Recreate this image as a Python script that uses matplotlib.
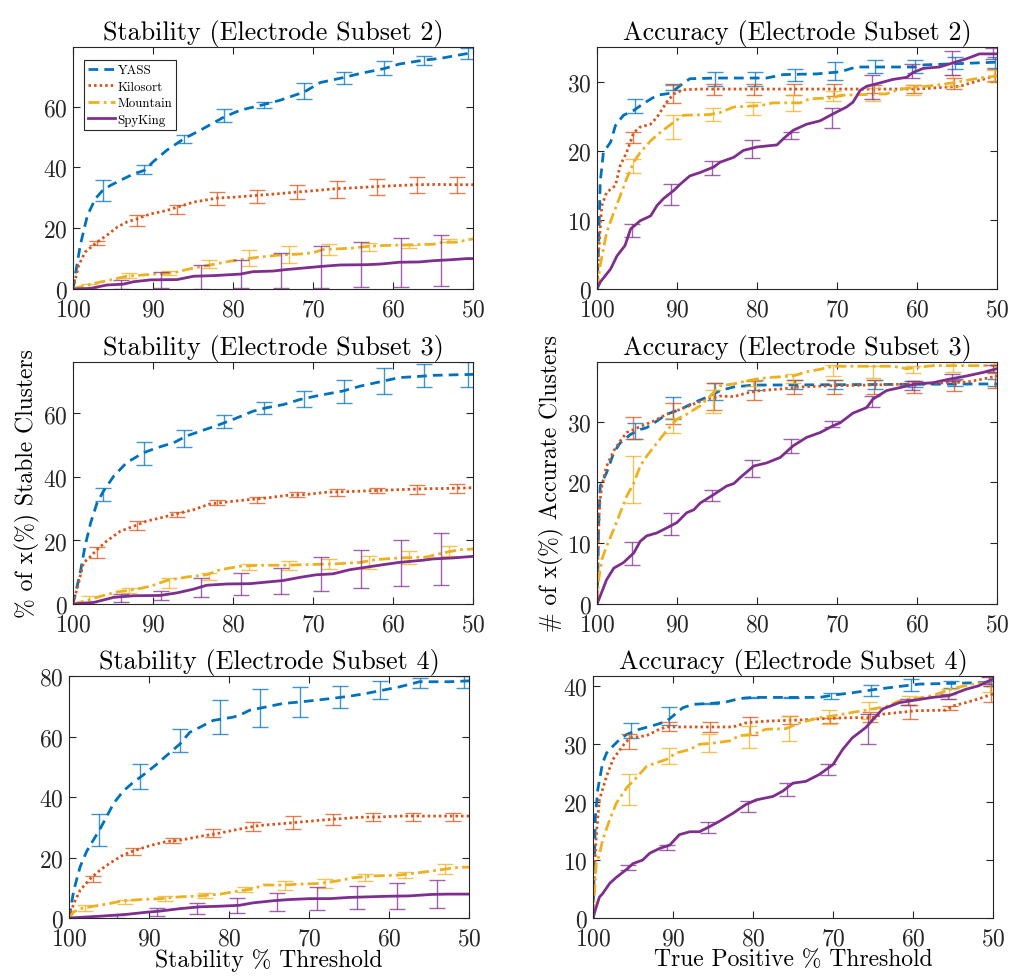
import numpy as np
import matplotlib
matplotlib.use("Agg")
import matplotlib.pyplot as plt

# Computer Modern look (fonts shipped with matplotlib)
plt.rcParams['font.family'] = ['cmr10', 'DejaVu Serif']
plt.rcParams['mathtext.fontset'] = 'cm'
plt.rcParams['axes.formatter.use_mathtext'] = True
plt.rcParams['axes.unicode_minus'] = False

names = ['YASS', 'Kilosort', 'Mountain', 'SpyKing']
colors = ['#0072BD', '#D95319', '#EDB120', '#7E2F8E']
dashes = [(3.5, 2.2), (0.9, 1.1), (4.0, 1.5, 1.0, 1.5), None]

# x positions of the error bars (stability panels / accuracy panels)
stab_ex_yass = [96.3, 91.1, 86.1, 81.1, 76.1, 71.1, 66.1, 61.1, 56.1, 50.6]
stab_ex_kilo = [97, 92, 87, 82, 77, 72, 67, 62, 57, 52]
stab_ex_mount = [98, 93, 88, 83, 78, 73, 68, 63, 58, 53]
stab_ex_spy = [94, 89, 84, 79, 74, 69, 64, 59, 54]
acc_ex_yass = [95.3, 90.5, 85.3, 80.3, 75.3, 70.3, 65.3, 60.3, 55.3, 50.3]
acc_ex_kilo = [95.5, 90.5, 85.4, 80.4, 75.4, 70.4, 65.4, 60.4, 55.4, 50.3]
acc_ex_mount = [95.5, 90.5, 85.5, 80.5, 75.5, 70.5, 65.5, 60.5, 55.5, 50.4]
acc_ex_spy = [95.6, 90.7, 85.6, 80.6, 75.7, 70.6, 65.6, 60.6, 55.6, 50.5]

# ---- Stability (Electrode Subset 2)
s2_yass_x = [100, 99.1, 98.2, 97.2, 96.3, 95.3, 94.1, 92.4, 91.1, 90.0, 88.3, 86.1, 84.1, 81.1, 79.1, 76.1, 74.1, 71.1, 69.1, 66.1, 64.1, 61.1, 59.2, 56.1, 54.2, 50.6, 50]
s2_yass_y = [0, 14.3, 24.2, 29.7, 32.4, 34.1, 35.7, 37.9, 39.0, 41.8, 45.6, 49.5, 52.2, 56.6, 58.8, 60.7, 62.1, 64.8, 67.9, 69.6, 70.9, 72.5, 74.0, 75.3, 75.8, 77.5, 77.6]
s2_yass_m = [32.3, 39.2, 49.3, 57.0, 60.6, 65.0, 69.4, 72.7, 75.2, 77.4]
s2_yass_e = [3.4, 1.5, 1.4, 2.1, 0.9, 2.6, 2.0, 2.2, 1.5, 1.9]
s2_kilo_x = [100, 99.3, 98.5, 97.0, 95.8, 94.5, 93.3, 92.0, 90.3, 88.3, 87.0, 84.9, 82.0, 79.9, 77.0, 74.5, 72.0, 69.6, 67.1, 64.6, 62.1, 59.6, 57.1, 54.6, 52.1, 50]
s2_kilo_y = [0, 7.7, 12.1, 15.4, 17.6, 20.3, 22.0, 23.1, 24.7, 25.8, 26.9, 28.6, 29.9, 30.2, 30.8, 31.3, 31.9, 32.4, 33.0, 33.3, 33.7, 34.0, 34.3, 34.4, 34.3, 34.3]
s2_kilo_m = [15.2, 22.6, 26.1, 29.7, 30.4, 31.9, 32.7, 33.5, 34.2, 34.2]
s2_kilo_e = [0.7, 1.8, 1.4, 2.2, 2.2, 2.4, 2.7, 2.7, 2.7, 2.7]
s2_mount_x = [100, 98.3, 95.3, 93.3, 90.3, 87.4, 85.8, 83.3, 80.0, 77.0, 74.1, 71.6, 70.0, 68.7, 65.4, 62.9, 61.2, 57.1, 55.0, 53.8, 52.1, 50]
s2_mount_y = [0, 1.3, 3.0, 4.2, 4.8, 5.3, 6.4, 7.7, 9.3, 10.4, 11.2, 11.5, 11.9, 13.0, 13.4, 14.1, 14.3, 14.6, 14.7, 15.4, 15.4, 16.5]
s2_mount_m = [1.0, 4.4, 5.3, 8.1, 10.1, 11.3, 13.0, 13.8, 14.0, 15.8]
s2_mount_e = [0.6, 0.9, 0.7, 1.3, 2.6, 2.8, 1.8, 1.2, 0.6, 0.5]
s2_spy_x = [100, 97.8, 95.8, 93.7, 92.4, 90.3, 87.0, 84.9, 82.4, 79.1, 77.5, 75.0, 73.3, 71.6, 69.1, 66.6, 63.3, 61.6, 59.2, 56.7, 55.0, 52.9, 50.8, 50]
s2_spy_y = [0, 0.2, 1.3, 1.6, 2.4, 3.0, 3.1, 4.2, 4.4, 4.9, 5.7, 5.9, 6.4, 6.8, 7.4, 7.9, 8.0, 8.2, 8.8, 8.9, 9.3, 9.6, 10.0, 10.0]
s2_spy_m = [1.5, 3.0, 3.9, 5.0, 6.1, 7.2, 7.9, 8.6, 9.4]
s2_spy_e = [1.5, 2.7, 3.9, 4.6, 5.7, 6.8, 7.4, 8.1, 8.5]

# ---- Accuracy (Electrode Subset 2)
a2_yass_x = [100, 99.8, 99.6, 99.2, 98.3, 97.7, 96.7, 95.4, 94.2, 92.5, 90.8, 89.6, 88.4, 85.0, 78.8, 76.7, 72.5, 69.6, 67.6, 60.1, 59.2, 50]
a2_yass_y = [0, 6.3, 15.5, 19.8, 21.3, 23.7, 25.2, 25.9, 26.9, 28.1, 28.4, 29.5, 30.5, 30.6, 30.6, 31.1, 31.2, 31.5, 32.2, 32.2, 32.5, 32.9]
a2_yass_m = [26.5, 29.3, 30.5, 30.5, 31.0, 31.6, 32.3, 32.3, 32.8, 32.8]
a2_yass_e = [1.0, 0.5, 1.0, 1.0, 0.9, 1.3, 0.9, 0.9, 0.9, 0.8]
a2_kilo_x = [100, 99.8, 99.4, 98.8, 97.7, 97.1, 96.3, 95.4, 94.6, 93.3, 92.5, 91.3, 90.4, 89.2, 87.1, 60.0, 54.7, 50]
a2_kilo_y = [0, 5.3, 12.1, 14.0, 15.0, 17.9, 19.8, 22.7, 23.5, 23.9, 24.9, 27.1, 28.3, 28.9, 29.0, 29.0, 29.4, 31.0]
a2_kilo_m = [22.0, 28.3, 29.0, 29.0, 28.9, 28.9, 29.0, 29.0, 29.8, 31.0]
a2_kilo_e = [0.8, 1.3, 0.8, 0.8, 0.8, 0.85, 0.6, 0.6, 0.85, 0.85]
a2_mount_x = [100, 99.6, 99.2, 98.8, 97.9, 97.1, 96.3, 95.4, 94.6, 93.3, 92.1, 90.4, 89.2, 85.9, 84.6, 82.9, 79.6, 78.0, 74.6, 73.4, 70.5, 69.6, 63.8, 62.1, 58.8, 55.5, 52.2, 50]
a2_mount_y = [0, 3.4, 5.8, 8.2, 11.1, 13.5, 16.0, 18.4, 19.8, 21.5, 22.7, 24.2, 25.2, 25.3, 25.6, 26.4, 26.6, 27.0, 27.0, 27.6, 27.7, 28.1, 28.3, 29.0, 29.4, 29.9, 30.6, 30.9]
a2_mount_m = [17.8, 23.5, 25.3, 26.2, 27.0, 28.0, 28.2, 28.9, 30.3, 30.9]
a2_mount_e = [1.0, 1.75, 1.0, 0.95, 1.15, 0.7, 0.9, 0.7, 0.8, 0.9]
a2_spy_x = [100, 99.6, 98.3, 97.5, 96.5, 95.8, 94.6, 93.3, 92.5, 91.7, 90.4, 89.6, 88.4, 87.1, 85.4, 84.6, 82.9, 81.7, 80.0, 77.5, 76.7, 75.5, 73.8, 72.1, 70.5, 68.8, 68.0, 67.1, 66.3, 64.6, 63.0, 61.3, 60.5, 59.2, 57.2, 55.5, 53.8, 52.2, 50]
a2_spy_y = [0, 1.0, 2.9, 4.8, 6.3, 8.7, 9.9, 10.6, 12.1, 13.1, 14.3, 15.2, 16.4, 16.9, 17.7, 18.4, 19.1, 20.1, 20.6, 20.9, 21.8, 23.0, 23.9, 24.4, 25.4, 26.4, 27.1, 28.8, 29.4, 29.9, 30.4, 30.7, 31.4, 32.0, 32.2, 32.8, 33.4, 34.1, 34.1]
a2_spy_m = [8.5, 13.7, 17.5, 20.3, 22.3, 24.8, 29.3, 31.6, 32.8, 34.1]
a2_spy_e = [1.0, 1.5, 1.0, 1.3, 0.5, 1.5, 1.7, 1.0, 1.7, 0.8]

# ---- Stability (Electrode Subset 3)
s3_yass_x = [100, 99.1, 98.5, 97.8, 97.0, 96.2, 94.9, 93.3, 91.2, 89.5, 87.4, 85.8, 84.1, 82.0, 80.0, 77.5, 75.8, 73.7, 71.6, 69.6, 66.2, 64.1, 61.2, 59.2, 57.1, 55.0, 50]
s3_yass_y = [0, 9.8, 18.2, 25.5, 31.8, 35.5, 40.3, 44.5, 47.6, 49.2, 50.8, 52.9, 54.4, 56.2, 58.1, 60.7, 61.8, 62.8, 64.4, 65.5, 67.1, 68.6, 70.2, 71.3, 71.6, 72.0, 72.3]
s3_yass_m = [34.5, 47.3, 52.2, 57.4, 61.8, 64.6, 67.0, 70.2, 72.0, 72.3]
s3_yass_e = [2.1, 3.6, 2.7, 2.1, 1.9, 2.5, 3.6, 4.2, 3.7, 3.9]
s3_kilo_x = [100, 99.3, 98.7, 97.8, 97.0, 95.8, 94.1, 92.4, 90.8, 89.1, 87.4, 84.9, 82.9, 80.9, 77.9, 75.8, 73.3, 70.8, 68.3, 65.4, 62.5, 59.2, 55.8, 52.9, 50]
s3_kilo_y = [0, 6.6, 12.9, 15.0, 17.1, 19.8, 22.9, 24.5, 26.1, 27.1, 28.2, 29.7, 31.5, 32.1, 32.9, 33.4, 34.2, 34.5, 35.2, 35.4, 35.7, 36.0, 36.3, 36.4, 36.6]
s3_kilo_m = [16.2, 24.6, 28.2, 31.9, 32.7, 34.4, 35.2, 35.8, 36.1, 36.4]
s3_kilo_e = [1.7, 1.4, 0.8, 0.8, 0.9, 0.8, 1.05, 0.8, 1.5, 1.4]
s3_mount_x = [100, 98.3, 96.6, 94.5, 92.4, 90.3, 88.3, 85.8, 83.3, 81.6, 79.1, 76.6, 73.7, 70.8, 67.5, 64.1, 62.1, 59.2, 55.8, 53.7, 51.7, 50]
s3_mount_y = [0, 1.1, 2.4, 3.8, 4.5, 5.6, 7.4, 8.5, 9.2, 10.8, 11.9, 12.2, 12.2, 12.4, 12.6, 13.1, 14.0, 14.5, 14.8, 16.1, 17.1, 17.3]
s3_mount_m = [1.5, 4.3, 6.6, 8.7, 11.7, 12.0, 12.6, 13.1, 14.6, 16.6]
s3_mount_e = [1.0, 0.8, 1.6, 1.05, 0.9, 1.4, 1.7, 2.1, 2.0, 1.6]
s3_spy_x = [100, 97.4, 94.9, 92.4, 89.1, 87.0, 84.9, 83.3, 80.8, 77.9, 75.8, 73.7, 71.6, 69.6, 67.5, 65.4, 63.3, 61.2, 59.2, 56.2, 55.0, 52.5, 50]
s3_spy_y = [0, 0.5, 2.1, 2.6, 2.7, 3.5, 4.7, 5.9, 6.3, 6.4, 6.9, 7.4, 8.4, 9.2, 9.5, 10.8, 11.6, 12.4, 13.1, 13.8, 14.2, 14.5, 15.0]
s3_spy_m = [1.8, 2.8, 5.1, 6.3, 7.3, 9.5, 11.0, 12.8, 14.2]
s3_spy_e = [1.3, 1.4, 3.0, 3.4, 4.1, 5.3, 6.1, 7.2, 8.1]

# ---- Accuracy (Electrode Subset 3)
a3_yass_x = [100, 99.9, 99.8, 99.6, 98.8, 97.9, 97.1, 95.8, 94.6, 93.8, 92.5, 91.3, 89.6, 87.9, 86.3, 84.6, 82.9, 80.4, 50]
a3_yass_y = [0, 5.1, 12.8, 19.4, 21.6, 24.9, 26.5, 27.9, 28.7, 29.0, 30.1, 31.2, 32.0, 33.1, 34.0, 35.1, 35.7, 36.0, 36.2]
a3_yass_m = [28.5, 32.2, 35.0, 36.0, 36.1, 36.1, 36.1, 36.2, 36.4, 36.4]
a3_yass_e = [1.3, 1.8, 1.4, 0.8, 0.8, 0.8, 0.7, 0.5, 0.55, 0.55]
a3_kilo_x = [100, 99.9, 99.7, 99.4, 98.8, 97.9, 97.1, 96.3, 95.4, 94.2, 92.9, 91.3, 89.6, 87.9, 86.3, 84.6, 82.9, 81.3, 79.6, 76.7, 74.6, 70.5, 66.3, 60.1, 53.8, 51.7, 50]
a3_kilo_y = [0, 7.3, 16.1, 19.4, 22.7, 25.2, 26.8, 28.2, 28.7, 29.4, 30.1, 31.2, 32.0, 32.9, 33.7, 34.2, 34.1, 34.7, 35.1, 35.4, 35.7, 35.9, 36.0, 36.2, 36.5, 37.0, 37.5]
a3_kilo_m = [29.0, 31.3, 34.1, 35.1, 35.7, 35.7, 35.7, 35.7, 35.9, 36.8]
a3_kilo_e = [1.8, 1.7, 2.2, 1.6, 1.2, 1.2, 1.2, 1.0, 0.9, 1.2]
a3_mount_x = [100, 99.8, 99.4, 98.8, 97.9, 97.1, 96.3, 95.4, 94.6, 93.8, 92.5, 91.3, 90.0, 88.8, 87.1, 85.4, 84.6, 82.9, 81.3, 79.6, 77.9, 75.5, 73.8, 72.1, 70.5, 63.0, 61.3, 60.1, 58.0, 50]
a3_mount_y = [0, 4.0, 7.3, 9.5, 12.3, 15.0, 17.7, 19.9, 22.7, 24.3, 26.5, 28.5, 30.4, 31.2, 32.6, 34.8, 35.9, 36.2, 36.7, 37.1, 37.3, 37.5, 38.2, 38.6, 39.1, 39.1, 38.7, 38.9, 39.2, 39.2]
a3_mount_m = [20.5, 29.4, 33.3, 36.4, 37.1, 38.4, 38.2, 38.6, 39.0, 39.0]
a3_mount_e = [3.85, 1.2, 1.95, 0.5, 0.7, 0.9, 1.0, 0.55, 0.8, 0.8]
a3_spy_x = [100, 99.6, 98.8, 97.9, 96.7, 95.4, 94.6, 93.8, 92.5, 91.3, 90.0, 88.8, 87.9, 87.1, 85.4, 83.8, 82.9, 82.1, 80.4, 78.8, 77.1, 75.5, 73.8, 72.1, 70.5, 69.6, 68.0, 66.3, 65.5, 63.8, 62.1, 60.1, 58.0, 55.9, 53.8, 51.7, 50]
a3_spy_y = [0, 1.3, 4.0, 5.9, 6.8, 8.4, 10.3, 11.2, 11.7, 12.5, 13.4, 15.0, 15.5, 16.6, 18.0, 19.4, 19.8, 20.8, 22.7, 23.2, 24.1, 26.0, 27.4, 28.2, 29.3, 29.8, 31.4, 32.3, 33.7, 35.1, 35.6, 36.2, 36.4, 37.0, 37.5, 38.1, 38.7]
a3_spy_m = [8.3, 13.1, 17.8, 22.3, 26.0, 29.6, 33.3, 36.0, 37.3, 38.7]
a3_spy_e = [1.9, 1.8, 0.9, 1.35, 1.15, 0.55, 0.95, 0.75, 0.6, 0.6]

# ---- Stability (Electrode Subset 4)
s4_yass_x = [100, 99.4, 98.6, 97.8, 96.9, 96.1, 95.3, 94.4, 93.2, 91.9, 90.7, 89.0, 87.8, 86.1, 84.9, 83.6, 82.0, 79.5, 78.7, 77.4, 75.3, 73.3, 71.2, 69.1, 67.1, 65.0, 62.9, 60.8, 58.7, 56.2, 52.5, 50]
s4_yass_y = [0, 9.2, 17.0, 22.0, 26.0, 29.5, 33.5, 38.0, 42.0, 45.0, 47.3, 50.9, 53.7, 57.6, 61.4, 63.1, 65.3, 66.4, 67.0, 68.7, 69.8, 70.9, 71.4, 72.0, 72.6, 73.3, 74.2, 75.3, 76.4, 78.1, 78.1, 78.4]
s4_yass_m = [29.1, 46.7, 58.7, 66.4, 69.4, 71.3, 73.0, 75.3, 77.6, 77.9]
s4_yass_e = [5.2, 4.2, 3.7, 5.55, 6.3, 4.9, 3.6, 3.05, 1.65, 2.0]
s4_kilo_x = [100, 99.4, 98.6, 97.3, 96.1, 94.9, 93.2, 91.9, 89.9, 87.8, 86.1, 83.6, 81.1, 78.7, 76.2, 73.3, 71.2, 68.7, 66.2, 63.7, 61.2, 58.7, 50]
s4_kilo_y = [0, 4.8, 9.2, 13.1, 15.9, 18.1, 20.9, 22.2, 23.9, 25.3, 25.7, 27.0, 28.1, 29.4, 30.6, 31.2, 31.7, 32.3, 32.8, 33.3, 33.4, 33.7, 33.7]
s4_kilo_m = [12.8, 21.9, 25.6, 28.0, 30.3, 31.6, 32.6, 33.4, 33.5, 33.5]
s4_kilo_e = [1.05, 1.2, 0.8, 1.3, 1.4, 2.1, 1.85, 1.4, 1.3, 1.3]
s4_mount_x = [100, 99.4, 98.6, 96.9, 94.9, 93.2, 91.1, 88.6, 86.1, 83.6, 81.1, 78.7, 77.0, 75.7, 73.3, 71.2, 68.7, 66.6, 64.5, 62.0, 58.7, 56.2, 53.7, 51.2, 50]
s4_mount_y = [0, 2.0, 3.1, 3.9, 4.8, 5.7, 6.1, 6.4, 7.0, 7.3, 7.9, 9.0, 9.6, 10.9, 10.9, 11.2, 11.4, 12.2, 13.3, 13.9, 14.2, 15.0, 15.9, 16.8, 16.8]
s4_mount_m = [3.3, 5.3, 6.4, 7.4, 9.3, 10.8, 11.3, 13.3, 14.1, 16.1]
s4_mount_e = [1.1, 0.55, 0.8, 0.95, 0.85, 1.4, 1.5, 1.1, 1.0, 1.7]
s4_spy_x = [100, 96.1, 92.8, 90.7, 88.6, 86.1, 83.6, 81.1, 78.7, 77.0, 74.5, 72.5, 69.9, 67.4, 65.0, 62.5, 60.0, 57.5, 54.6, 52.5, 50]
s4_spy_y = [0, 0.6, 1.2, 1.8, 2.3, 3.1, 3.7, 3.9, 4.2, 5.0, 5.7, 6.1, 6.4, 6.4, 6.8, 7.0, 7.2, 7.3, 7.8, 7.9, 7.9]
s4_spy_m = [0.4, 2.0, 3.1, 4.1, 5.3, 6.3, 6.8, 7.3, 8.0]
s4_spy_e = [0.5, 1.4, 1.9, 2.4, 3.1, 3.8, 3.9, 4.2, 4.6]

# ---- Accuracy (Electrode Subset 4)
a4_yass_x = [100, 99.9, 99.7, 99.4, 98.8, 98.3, 97.5, 96.7, 95.8, 94.2, 92.1, 90.8, 90.0, 88.8, 87.5, 85.0, 83.4, 81.7, 80.0, 71.7, 70.0, 67.6, 64.6, 61.7, 59.2, 50]
a4_yass_y = [0, 6.0, 17.5, 22.2, 26.8, 28.5, 29.7, 30.8, 31.7, 32.6, 33.4, 34.0, 34.9, 36.3, 36.9, 37.1, 37.3, 37.9, 38.1, 38.1, 38.5, 38.9, 39.5, 40.0, 40.4, 40.7]
a4_yass_m = [32.4, 34.9, 37.1, 38.1, 38.1, 38.3, 39.3, 40.2, 40.4, 40.5]
a4_yass_e = [1.3, 1.6, 0.1, 0.1, 0.1, 0.5, 0.9, 1.0, 0.6, 0.4]
a4_kilo_x = [100, 99.9, 99.6, 99.2, 98.3, 97.5, 96.3, 95.4, 93.3, 91.7, 90.8, 82.5, 80.9, 78.4, 74.2, 71.7, 68.0, 65.1, 63.8, 59.6, 55.9, 55.1, 53.4, 51.7, 50]
a4_kilo_y = [0, 6.0, 14.1, 20.4, 24.5, 27.4, 29.7, 31.1, 31.5, 32.6, 33.0, 33.0, 33.7, 34.0, 34.2, 34.4, 34.6, 34.6, 35.2, 35.8, 35.9, 36.6, 37.2, 37.9, 38.7]
a4_kilo_m = [30.5, 33.1, 33.0, 33.1, 34.2, 34.1, 34.7, 35.6, 36.3, 38.7]
a4_kilo_e = [1.3, 0.8, 0.85, 1.55, 0.7, 0.5, 0.8, 1.15, 0.4, 1.45]
a4_mount_x = [100, 99.8, 99.6, 99.2, 98.8, 97.9, 97.1, 95.8, 94.6, 93.3, 92.1, 90.8, 89.6, 87.9, 86.7, 85.0, 82.9, 81.7, 80.0, 78.4, 75.9, 74.2, 71.7, 70.0, 67.6, 65.9, 63.4, 61.7, 59.7, 57.6, 55.1, 52.6, 50]
a4_mount_y = [0, 4.8, 9.4, 10.9, 13.5, 17.0, 19.8, 22.5, 24.2, 26.2, 26.8, 27.4, 28.5, 29.1, 30.0, 30.2, 30.6, 31.5, 31.7, 32.6, 32.7, 33.7, 34.6, 34.9, 35.5, 35.9, 36.5, 37.5, 37.9, 38.4, 39.6, 40.4, 40.7]
a4_mount_m = [22.2, 28.0, 30.2, 31.3, 32.7, 34.7, 35.9, 37.6, 38.7, 40.3]
a4_mount_e = [2.6, 1.45, 1.5, 1.95, 2.2, 1.2, 1.45, 0.8, 0.9, 1.3]
a4_spy_x = [100, 99.6, 99.2, 98.8, 97.9, 97.1, 95.8, 95.0, 93.8, 92.9, 91.7, 90.4, 89.2, 87.9, 86.7, 85.4, 84.2, 82.5, 80.9, 79.6, 77.5, 76.3, 75.0, 73.4, 71.7, 70.0, 68.8, 67.6, 65.9, 63.8, 61.7, 57.6, 55.5, 53.4, 51.8, 50]
a4_spy_y = [0, 1.9, 3.6, 4.2, 6.0, 7.0, 8.4, 9.4, 10.0, 11.2, 12.0, 12.6, 14.4, 14.9, 14.9, 15.8, 16.7, 18.1, 19.6, 20.4, 21.0, 21.9, 23.3, 23.6, 24.8, 26.5, 29.1, 31.1, 32.9, 36.1, 37.2, 38.1, 38.4, 39.5, 40.1, 41.3]
a4_spy_m = [8.7, 12.2, 15.7, 19.2, 22.2, 25.7, 32.6, 37.3, 38.2, 41.0]
a4_spy_e = [0.45, 0.45, 0.95, 0.95, 1.2, 0.95, 2.6, 0.45, 0.45, 0.6]

stab_ex = [stab_ex_yass, stab_ex_kilo, stab_ex_mount, stab_ex_spy]
acc_ex = [acc_ex_yass, acc_ex_kilo, acc_ex_mount, acc_ex_spy]

panels = [
    ('Stability (Electrode Subset 2)', stab_ex, 79.6, 20,
     [(s2_yass_x, s2_yass_y, s2_yass_m, s2_yass_e), (s2_kilo_x, s2_kilo_y, s2_kilo_m, s2_kilo_e),
      (s2_mount_x, s2_mount_y, s2_mount_m, s2_mount_e), (s2_spy_x, s2_spy_y, s2_spy_m, s2_spy_e)]),
    ('Accuracy (Electrode Subset 2)', acc_ex, 35.1, 10,
     [(a2_yass_x, a2_yass_y, a2_yass_m, a2_yass_e), (a2_kilo_x, a2_kilo_y, a2_kilo_m, a2_kilo_e),
      (a2_mount_x, a2_mount_y, a2_mount_m, a2_mount_e), (a2_spy_x, a2_spy_y, a2_spy_m, a2_spy_e)]),
    ('Stability (Electrode Subset 3)', stab_ex, 76.2, 20,
     [(s3_yass_x, s3_yass_y, s3_yass_m, s3_yass_e), (s3_kilo_x, s3_kilo_y, s3_kilo_m, s3_kilo_e),
      (s3_mount_x, s3_mount_y, s3_mount_m, s3_mount_e), (s3_spy_x, s3_spy_y, s3_spy_m, s3_spy_e)]),
    ('Accuracy (Electrode Subset 3)', acc_ex, 39.8, 10,
     [(a3_yass_x, a3_yass_y, a3_yass_m, a3_yass_e), (a3_kilo_x, a3_kilo_y, a3_kilo_m, a3_kilo_e),
      (a3_mount_x, a3_mount_y, a3_mount_m, a3_mount_e), (a3_spy_x, a3_spy_y, a3_spy_m, a3_spy_e)]),
    ('Stability (Electrode Subset 4)', stab_ex, 80.0, 20,
     [(s4_yass_x, s4_yass_y, s4_yass_m, s4_yass_e), (s4_kilo_x, s4_kilo_y, s4_kilo_m, s4_kilo_e),
      (s4_mount_x, s4_mount_y, s4_mount_m, s4_mount_e), (s4_spy_x, s4_spy_y, s4_spy_m, s4_spy_e)]),
    ('Accuracy (Electrode Subset 4)', acc_ex, 41.8, 10,
     [(a4_yass_x, a4_yass_y, a4_yass_m, a4_yass_e), (a4_kilo_x, a4_kilo_y, a4_kilo_m, a4_kilo_e),
      (a4_mount_x, a4_mount_y, a4_mount_m, a4_mount_e), (a4_spy_x, a4_spy_y, a4_spy_m, a4_spy_e)]),
]

# axes rectangles in pixels (left, top) of a 400x242 box
W, H = 1011, 978
boxes = [(73, 48), (597, 48), (73, 363), (597, 363), (69, 677), (593, 677)]
aw, ah = 400, 242

fig = plt.figure(figsize=(W / 100, H / 100), dpi=100)
axes = []
for (title, exs, ytop, ystep, series), (bx, by) in zip(panels, boxes):
    ax = fig.add_axes([bx / W, 1 - (by + ah) / H, aw / W, ah / H])
    axes.append(ax)
    for i, (x, y, m, e) in enumerate(series):
        ln, = ax.plot(x, y, color=colors[i], lw=2.0, label=names[i])
        if dashes[i] is not None:
            ln.set_dashes(dashes[i])
        ax.errorbar(exs[i], m, yerr=e, fmt='none', ecolor=colors[i], elinewidth=1.0,
                    capsize=5.5, capthick=1.0, alpha=0.75)
    ax.set_xlim(100, 50)
    ax.set_ylim(0, ytop)
    ax.set_xticks([100, 90, 80, 70, 60, 50])
    ax.set_yticks(np.arange(0, ytop + 0.01, ystep))
    ax.tick_params(direction='in', top=True, right=True, length=5, width=0.8,
                   labelsize=17, colors='#262626', pad=4)
    ax.tick_params(axis='x', pad=6.5)
    for sp in ax.spines.values():
        sp.set_color('#262626')
        sp.set_linewidth(0.8)
    ax.set_title(title, fontsize=18.8, pad=6)

axes[2].set_ylabel('% of x(%) Stable Clusters', fontsize=17, labelpad=2)
axes[3].set_ylabel('# of x(%) Accurate Clusters', fontsize=17, labelpad=2)
axes[4].set_xlabel('Stability % Threshold', fontsize=17, labelpad=-1)
axes[5].set_xlabel('True Positive % Threshold', fontsize=17, labelpad=-1)

leg = axes[0].legend(loc='upper left', bbox_to_anchor=(0.0275, 0.946), borderaxespad=0,
                     fontsize=9.3, fancybox=False, framealpha=1, edgecolor='#262626',
                     handlelength=2.1, handletextpad=0.2, borderpad=0.3, labelspacing=0.35)
leg.get_frame().set_linewidth(0.8)

fig.savefig('out.png', dpi=100)
